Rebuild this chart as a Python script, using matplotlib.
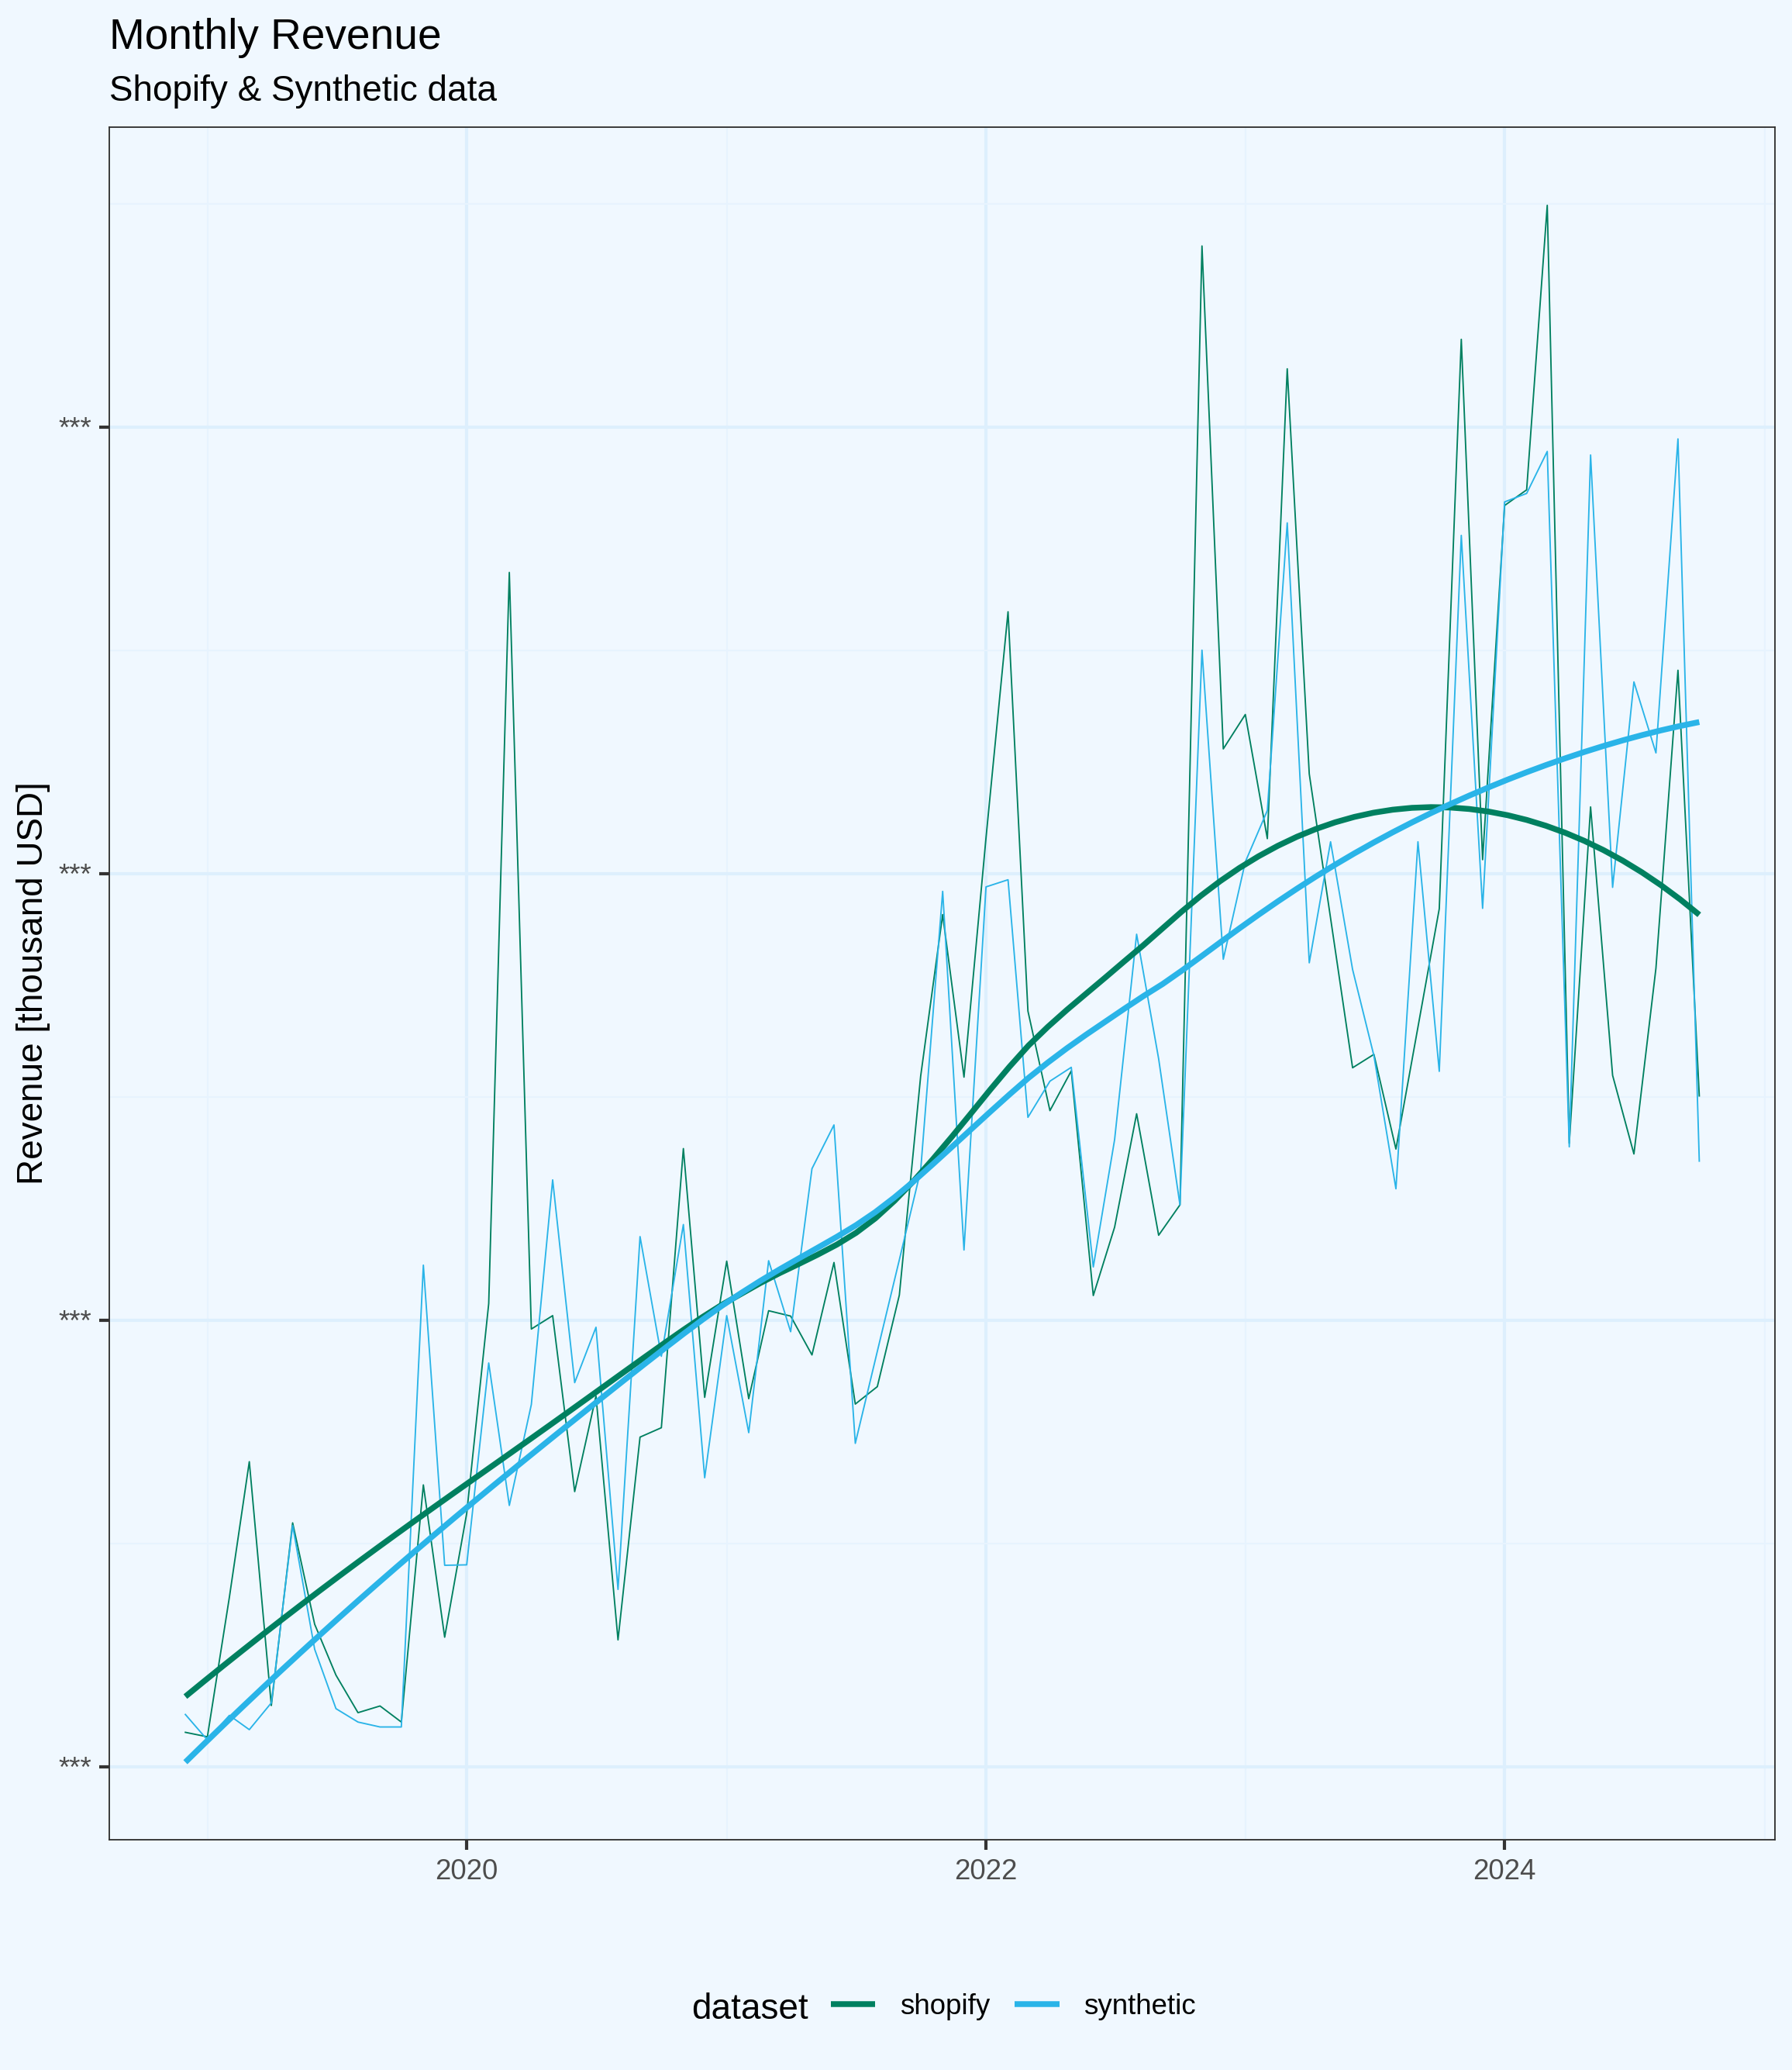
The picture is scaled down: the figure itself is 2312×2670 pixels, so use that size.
import numpy as np
import pandas as pd
import matplotlib
matplotlib.use("Agg")
from matplotlib import pyplot
import matplotlib.dates as mdates

# monthly revenue, thousand USD (first month Dec 2018)
start_month = "2018-12-01"
n_months = 71
shopify = [107.7, 106.7, 138.0, 168.3, 113.7, 154.6, 131.9, 120.5, 112.1, 113.6,
           110.0, 163.1, 129.0, 156.7, 203.7, 367.4, 198.0, 201.0, 161.6, 183.0,
           128.4, 173.8, 175.9, 238.4, 182.7, 213.2, 182.4, 202.1, 200.9, 192.2,
           212.9, 181.2, 185.1, 205.6, 254.6, 290.8, 254.4, 308.0, 358.6, 269.2,
           246.9, 255.8, 205.5, 220.8, 246.2, 219.0, 225.8, 440.5, 327.9, 335.6,
           307.8, 413.0, 322.3, 290.0, 256.5, 259.5, 238.3, 265.6, 292.1, 419.6,
           303.1, 382.4, 385.9, 449.6, 239.6, 314.9, 254.8, 237.2, 278.8, 345.5,
           250.2]
synthetic = [111.7, 106.0, 111.5, 108.3, 114.3, 154.0, 126.3, 113.0, 110.0, 108.9,
             108.9, 212.3, 145.1, 145.2, 190.4, 158.5, 181.1, 231.4, 186.0, 198.4,
             139.7, 218.7, 191.9, 221.4, 164.7, 201.0, 174.8, 213.3, 197.4, 233.9,
             243.7, 172.4, 193.0, 213.5, 233.5, 296.0, 215.7, 297.0, 298.6, 245.4,
             253.5, 256.6, 211.9, 240.4, 286.4, 258.5, 225.8, 350.0, 280.8, 302.6,
             314.1, 378.5, 280.0, 307.1, 278.5, 259.2, 229.4, 307.1, 255.7, 375.7,
             292.2, 383.2, 385.1, 394.5, 238.8, 393.7, 296.9, 342.9, 327.0, 397.3,
             235.6]
series_names = ["shopify", "synthetic"]
series_colors = ["#008060", "#2AB4E8"]
y_ticks = [100, 200, 300, 400]
y_tick_labels = ["***", "***", "***", "***"]

BG = "#F0F8FF"


def loess(x, y, xout, span=0.75):
    '''local quadratic fit with tricube weights (like R loess defaults)'''
    x = np.asarray(x, float)
    y = np.asarray(y, float)
    q = int(np.floor(len(x) * span))
    fit = []
    for x0 in xout:
        d = np.abs(x - x0)
        h = np.sort(d)[q - 1]
        w = np.clip(1 - (d / h) ** 3, 0, None) ** 3
        u = (x - x0) / h
        X = np.column_stack([np.ones_like(u), u, u * u])
        sw = np.sqrt(w)
        beta = np.linalg.lstsq(X * sw[:, None], y * sw, rcond=None)[0]
        fit.append(beta[0])
    return np.array(fit)


pyplot.rcParams["font.family"] = ["Liberation Sans", "DejaVu Sans"]

months = pd.date_range(start_month, periods=n_months, freq="MS")
xnum = mdates.date2num(months)
xgrid = np.linspace(xnum[0], xnum[-1], 80)

fig = pyplot.figure(figsize=(2312 / 300, 2670 / 300), dpi=300, facecolor=BG)
ax = fig.add_axes([0.0612, 0.1111, 0.9293, 0.8273], facecolor=BG)

# raw monthly lines
for vals, col in zip([shopify, synthetic], series_colors):
    ax.plot(months, vals, color=col, lw=0.45, zorder=3)
# smoothed trends
handles = []
for vals, col, name in zip([shopify, synthetic], series_colors, series_names):
    h, = ax.plot(mdates.num2date(xgrid), loess(xnum, vals, xgrid), color=col,
                 lw=1.8, zorder=4, solid_capstyle="butt", label=name)
    handles.append(h)

ax.margins(x=0.05, y=0.05)

ax.xaxis.set_major_locator(mdates.YearLocator(2))
ax.xaxis.set_minor_locator(mdates.YearLocator(2, month=1, day=1))
ax.xaxis.set_major_formatter(mdates.DateFormatter("%Y"))
minor_years = [mdates.date2num(pd.Timestamp(f"{yr}-01-01")) for yr in (2019, 2021, 2023, 2025)]
ax.set_xticks(minor_years, minor=True)
ax.set_yticks(y_ticks)
ax.set_yticklabels(y_tick_labels)
ax.set_yticks([y - 50 for y in y_ticks[1:]] + [y_ticks[-1] + 50], minor=True)

ax.grid(which="major", color="#DDEFFD", lw=1.0, zorder=0)
ax.grid(which="minor", color="#E7F3FE", lw=0.5, zorder=0)
ax.set_axisbelow(True)

for s in ax.spines.values():
    s.set_color("#333333")
    s.set_linewidth(0.45)
ax.tick_params(which="major", length=3.1, width=1.0, color="#333333",
               labelsize=8.8, labelcolor="#4D4D4D", pad=2.5)
ax.tick_params(which="minor", length=0)

fig.text(0.0612, 0.9764, "Monthly Revenue", fontsize=13.2, ha="left", va="baseline")
fig.text(0.0612, 0.9513, "Shopify & Synthetic data", fontsize=11, ha="left", va="baseline")
fig.text(0.0184, 0.525, "Revenue [thousand USD]", fontsize=11, rotation=90,
         ha="center", va="center")

# legend at the bottom, title to the left of the keys
fig.text(0.3858, 0.0247, "dataset", fontsize=11, ha="left", va="baseline")
fig.legend(handles=handles, loc="center left", bbox_to_anchor=(0.4637, 0.0307),
           ncol=2, frameon=False, fontsize=8.8, handlelength=1.56, handletextpad=0.87,
           columnspacing=0.87, borderpad=0, borderaxespad=0)

fig.savefig("out.png", dpi=300, facecolor=BG)
